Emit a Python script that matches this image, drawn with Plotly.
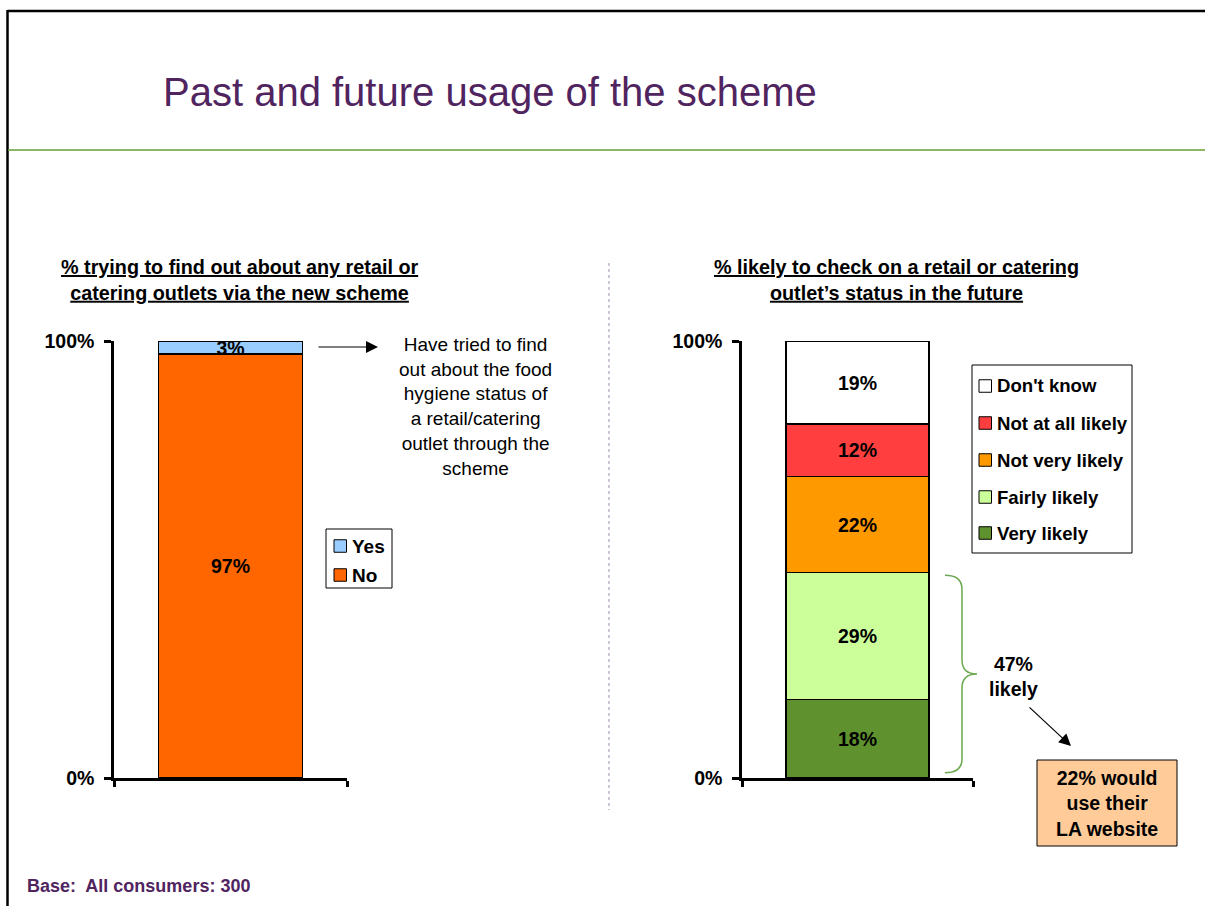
import plotly.graph_objects as go

# ---- data ----
past_labels = ["No", "Yes"]
past_values = [97, 3]
past_colors = ["#FF6600", "#99CCFF"]

future_labels = ["Very likely", "Fairly likely", "Not very likely", "Not at all likely", "Don't know"]
future_values = [18, 29, 22, 12, 19]
future_colors = ["#5F922F", "#CCFF99", "#FF9900", "#FF3F3F", "#FFFFFF"]

likely_total = future_values[0] + future_values[1]   # 47
la_website_pct = 22

y_tick_vals = [0, 100]
y_tick_text = ["0%", "100%"]

W, H = 1205, 906
FONT = "Liberation Sans, Arial, sans-serif"
PURPLE = "#50245F"
TXT = 19.5


def px(x):
    return x / W


def py(y):
    return 1 - y / H


fig = go.Figure()

for lab, val, col in zip(past_labels, past_values, past_colors):
    fig.add_trace(go.Bar(
        x=[0.5], y=[val], width=0.62, name=lab,
        marker=dict(color=col, line=dict(color="black", width=1.5)),
        text=[f"{val}%"], textposition="inside", insidetextanchor="middle",
        textangle=0, constraintext="none",
        textfont=dict(family=FONT, size=TXT, color="black", weight="bold"),
        xaxis="x", yaxis="y", showlegend=False, hoverinfo="skip",
    ))

for lab, val, col in zip(future_labels, future_values, future_colors):
    fig.add_trace(go.Bar(
        x=[0.5], y=[val], width=0.62, name=lab,
        marker=dict(color=col, line=dict(color="black", width=1.5)),
        text=[f"{val}%"], textposition="inside", insidetextanchor="middle",
        textangle=0, constraintext="none",
        textfont=dict(family=FONT, size=TXT, color="black", weight="bold"),
        xaxis="x2", yaxis="y2", showlegend=False, hoverinfo="skip",
    ))

axis_common = dict(showgrid=False, zeroline=False, showline=True, automargin=False,
                   linecolor="black", linewidth=2.5, fixedrange=True)

xaxis_common = dict(axis_common, range=[0, 1], tickvals=[0, 1], ticktext=["", ""],
                    ticks="outside", ticklen=6, tickwidth=2.5, tickcolor="black")

yaxis_common = dict(axis_common, range=[0, 100], tickvals=y_tick_vals, ticktext=y_tick_text,
                    ticks="outside", ticklen=7, tickwidth=2.5, tickcolor="black",
                    ticklabelstandoff=6,
                    tickfont=dict(family=FONT, size=TXT, color="black", weight="bold"))

y_dom = [py(778), py(341)]

fig.update_layout(
    width=W, height=H,
    margin=dict(l=0, r=0, t=0, b=0, pad=0, autoexpand=False),
    paper_bgcolor="white", plot_bgcolor="white",
    barmode="stack", showlegend=False,
    font=dict(family=FONT, color="black"),
    xaxis=dict(xaxis_common, domain=[px(114), px(347)], anchor="y"),
    yaxis=dict(yaxis_common, domain=y_dom, anchor="x"),
    xaxis2=dict(xaxis_common, domain=[px(742), px(973)], anchor="y2"),
    yaxis2=dict(yaxis_common, domain=y_dom, anchor="x2"),
)

shapes = [
    # slide frame
    dict(type="line", xref="paper", yref="paper", x0=px(7.5), x1=1, y0=py(11), y1=py(11),
         line=dict(color="black", width=2.5)),
    dict(type="line", xref="paper", yref="paper", x0=px(7.5), x1=px(7.5), y0=py(10), y1=0,
         line=dict(color="black", width=2.5)),
    # green rule under the heading
    dict(type="line", xref="paper", yref="paper", x0=px(8), x1=1, y0=py(150), y1=py(150),
         line=dict(color="#66A033", width=1.5)),
    # divider between the two charts
    dict(type="line", xref="paper", yref="paper", x0=px(609), x1=px(609), y0=py(263), y1=py(810),
         line=dict(color="#9F8EAD", width=1, dash="dot")),
    # box for the LA website note
    dict(type="rect", xref="paper", yref="paper", x0=px(1037), x1=px(1177), y0=py(760), y1=py(846),
         fillcolor="#FFCC99", line=dict(color="black", width=1), layer="below"),
]

annotations = []


def add_legend(labels, colors, box, sq_x, text_x, row_y, font_size, sq=12.5):
    """Boxed legend listing the stacked segments from top to bottom."""
    x0, y0, x1, y1 = box
    shapes.append(dict(type="rect", xref="paper", yref="paper",
                       x0=px(x0), x1=px(x1), y0=py(y0), y1=py(y1),
                       fillcolor="white", line=dict(color="black", width=1)))
    for lab, col, yc in zip(labels[::-1], colors[::-1], row_y):
        shapes.append(dict(type="rect", xref="paper", yref="paper",
                           x0=px(sq_x), x1=px(sq_x + sq),
                           y0=py(yc - sq / 2), y1=py(yc + sq / 2),
                           fillcolor=col, line=dict(color="black", width=1)))
        annotations.append(dict(text=lab, x=px(text_x), y=py(yc), xanchor="left",
                                yanchor="middle", showarrow=False,
                                font=dict(family=FONT, size=font_size, color="black",
                                          weight="bold")))


add_legend(past_labels, past_colors, (326, 529, 392, 588), 334, 350, [546, 575], 19)
add_legend(future_labels, future_colors, (972, 365, 1132, 553), 979, 995,
           [386, 423, 460, 497, 533], 18.6)

# curly brace spanning the "likely" share of the right-hand bar
bx0, bx1, bx2 = px(945), px(962), px(977)
b_lo, b_hi = 1.2, likely_total - 0.6
b_mid = (b_lo + b_hi) / 2
c = 3.2
brace = (
    f"M {bx0},{b_hi} Q {bx1},{b_hi} {bx1},{b_hi - c} "
    f"L {bx1},{b_mid + c} Q {bx1},{b_mid} {bx2},{b_mid} "
    f"Q {bx1},{b_mid} {bx1},{b_mid - c} "
    f"L {bx1},{b_lo + c} Q {bx1},{b_lo} {bx0},{b_lo}"
)
shapes.append(dict(type="path", xref="paper", yref="y2", path=brace,
                   line=dict(color="#6AA84F", width=1.5)))
fig.update_layout(shapes=shapes)

annotations += [
    dict(text="Past and future usage of the scheme", x=px(161), y=py(92),
         xanchor="left", yanchor="middle", showarrow=False,
         font=dict(family=FONT, size=40, color=PURPLE)),
    dict(text="<u>% trying to find out about any retail or</u><br><u>catering outlets via the new scheme</u>",
         x=px(239), y=py(280), xanchor="center", yanchor="middle", showarrow=False,
         font=dict(family=FONT, size=19.8, color="black", weight="bold")),
    dict(text="<u>% likely to check on a retail or catering</u><br><u>outlet\u2019s status in the future</u>",
         x=px(896), y=py(280), xanchor="center", yanchor="middle", showarrow=False,
         font=dict(family=FONT, size=19.8, color="black", weight="bold")),
    dict(text="Have tried to find<br>out about the food<br>hygiene status of<br>a retail/catering<br>outlet through the<br>scheme",
         x=px(475), y=py(407), xanchor="center", yanchor="middle", showarrow=False,
         font=dict(family=FONT, size=19, color="black")),
    # arrow from the "Yes" slice to its note
    dict(text="", x=px(378), y=py(347), ax=-61, ay=0,
         showarrow=True, arrowhead=2, arrowsize=2, arrowwidth=1.2, arrowcolor="black"),
    dict(text=f"{likely_total}%<br>likely", x=px(1013), y=py(676),
         xanchor="center", yanchor="middle", showarrow=False,
         font=dict(family=FONT, size=TXT, color="black", weight="bold")),
    # arrow from the "likely" note to the LA website box
    dict(text="", x=px(1071), y=py(746), ax=-43, ay=-40,
         showarrow=True, arrowhead=2, arrowsize=2, arrowwidth=1.2, arrowcolor="black"),
    dict(text=f"{la_website_pct}% would<br>use their<br>LA website", x=px(1107), y=py(803),
         xanchor="center", yanchor="middle", showarrow=False,
         font=dict(family=FONT, size=19.5, color="black", weight="bold")),
    dict(text="Base:  All consumers: 300", x=px(25), y=py(886),
         xanchor="left", yanchor="middle", showarrow=False,
         font=dict(family=FONT, size=18, color=PURPLE, weight="bold")),
]
for a in annotations:
    a.setdefault("xref", "paper")
    a.setdefault("yref", "paper")
fig.update_layout(annotations=annotations)

fig.write_html("out.html")
